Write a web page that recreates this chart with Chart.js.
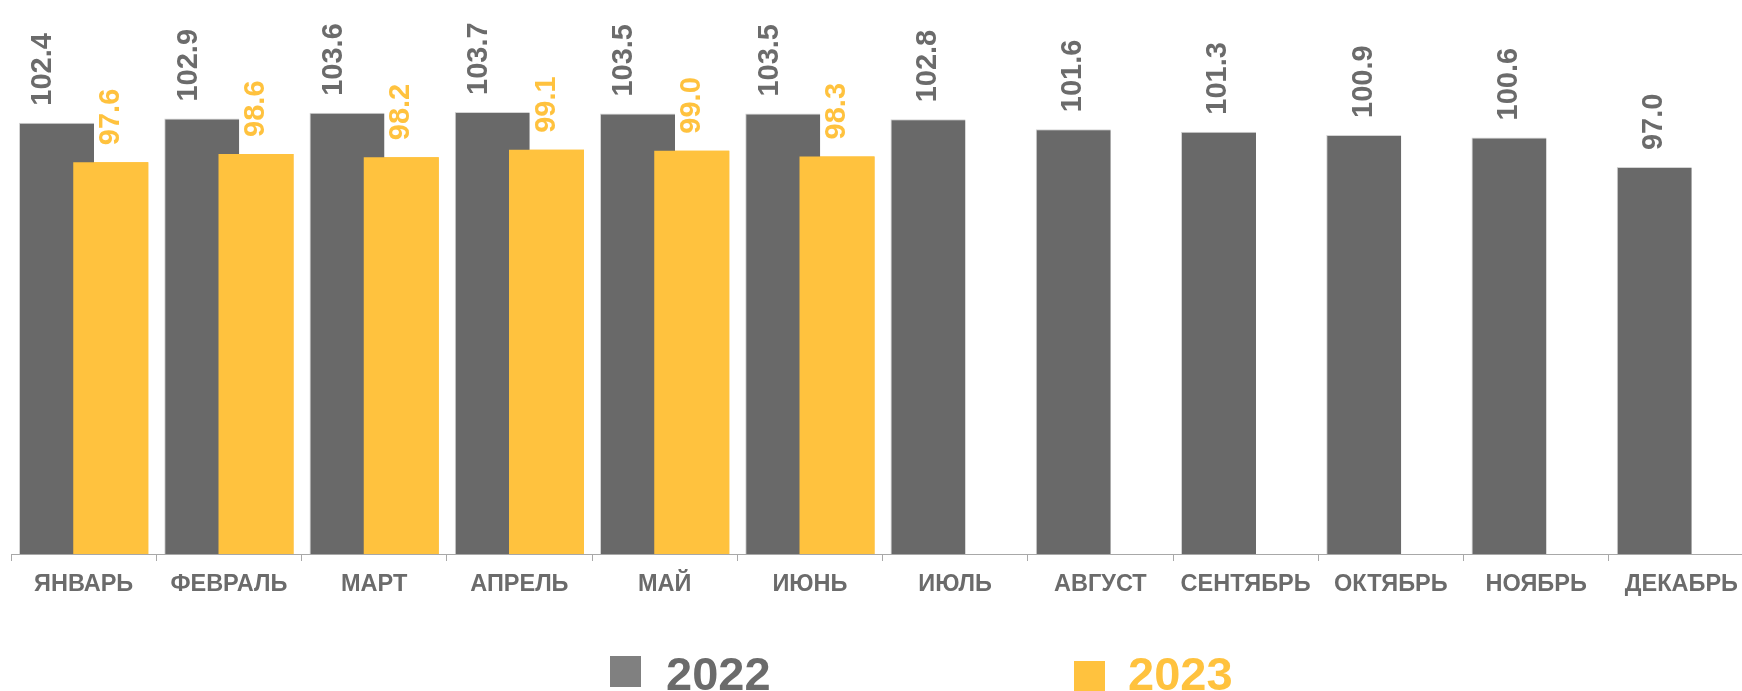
<!DOCTYPE html>
<html>
<head>
<meta charset="utf-8">
<script src="https://cdn.jsdelivr.net/npm/chart.js@4/dist/chart.umd.min.js"></script>
<style>
  html, body { margin: 0; padding: 0; background: #ffffff; overflow: hidden; }
  #wrap { width: 1754px; height: 691px; }
</style>
</head>
<body>
<div id="wrap"><canvas id="c" width="1754" height="691"></canvas></div>
<script>
const months = ['ЯНВАРЬ','ФЕВРАЛЬ','МАРТ','АПРЕЛЬ','МАЙ','ИЮНЬ','ИЮЛЬ','АВГУСТ','СЕНТЯБРЬ','ОКТЯБРЬ','НОЯБРЬ','ДЕКАБРЬ'];
const seriesNames = ['2022', '2023'];
const values2022 = [102.4, 102.9, 103.6, 103.7, 103.5, 103.5, 102.8, 101.6, 101.3, 100.9, 100.6, 97.0];
const values2023 = [97.6, 98.6, 98.2, 99.1, 99.0, 98.3, null, null, null, null, null, null];

const GRAY = '#696969';
const YELLOW = '#FFC23E';
const TEXT_GRAY = '#6b6b6b';

const barPlugin = {
  id: 'barExtras',
  afterDatasetsDraw(chart) {
    const ctx = chart.ctx;
    const a = chart.chartArea;
    // yellow (2023) bars overlap and sit on top of the 2022 bars
    ctx.save();
    ctx.beginPath();
    ctx.rect(a.left, a.top, a.right - a.left, a.bottom - a.top);
    ctx.clip();
    chart.getDatasetMeta(1).controller.draw();
    ctx.restore();
    // value labels, rotated
    ctx.save();
    ctx.font = 'bold 29px "Liberation Sans", Arial, sans-serif';
    ctx.textAlign = 'left';
    ctx.textBaseline = 'middle';
    chart.data.datasets.forEach((ds, di) => {
      const meta = chart.getDatasetMeta(di);
      meta.data.forEach((bar, i) => {
        const v = ds.data[i];
        if (v === null || v === undefined) return;
        let x = bar.x;
        if (di === 0 && values2023[i] !== null) x -= 13;
        const y = bar.y - 17;
        ctx.save();
        ctx.translate(x, y);
        ctx.rotate(-Math.PI / 2);
        ctx.fillStyle = di === 0 ? TEXT_GRAY : YELLOW;
        ctx.fillText(v.toFixed(1), 0, 0);
        ctx.restore();
      });
    });
    ctx.restore();
  },
  afterDraw(chart, args, opts) {
    const ctx = chart.ctx;
    ctx.save();
    opts.items.forEach((it, di) => {
      ctx.fillStyle = it.box;
      ctx.fillRect(it.bx, it.by, it.bw, it.bh);
      ctx.font = 'bold 47px "Liberation Sans", Arial, sans-serif';
      ctx.textAlign = 'left';
      ctx.textBaseline = 'alphabetic';
      ctx.fillStyle = it.text;
      ctx.fillText(chart.data.datasets[di].label, it.tx, opts.baseline);
    });
    ctx.restore();
  }
};

new Chart(document.getElementById('c'), {
  type: 'bar',
  data: {
    labels: months,
    datasets: [
      {
        label: seriesNames[0],
        data: values2022,
        backgroundColor: GRAY,
        borderColor: '#d4d4d4',
        borderWidth: {left: 1, top: 1, right: 0, bottom: 0},
        categoryPercentage: 0.747,
        barPercentage: 1.3825
      },
      {
        label: seriesNames[1],
        data: values2023,
        backgroundColor: YELLOW,
        borderColor: '#ffe2a0',
        borderWidth: 0,
        categoryPercentage: 0.747,
        barPercentage: 1.3825
      }
    ]
  },
  options: {
    responsive: false,
    animation: false,
    devicePixelRatio: 1,
    layout: { padding: { left: 11, right: 0, top: 0, bottom: 0 } },
    plugins: {
      legend: { display: false },
      tooltip: { enabled: false },
      barExtras: {
        baseline: 690,
        items: [
          { box: '#808080', text: TEXT_GRAY, bx: 610, by: 656, bw: 31, bh: 31, tx: 666 },
          { box: YELLOW, text: YELLOW, bx: 1074, by: 661, bw: 31, bh: 31, tx: 1128 }
        ]
      }
    },
    scales: {
      x: {
        type: 'category',
        offset: true,
        grid: {
          offset: true,
          drawOnChartArea: false,
          drawTicks: true,
          tickLength: 7,
          color: '#a8a8a8',
          lineWidth: 1
        },
        border: { display: true, color: '#a8a8a8', width: 1 },
        ticks: {
          autoSkip: false,
          maxRotation: 0,
          minRotation: 0,
          padding: 9,
          color: TEXT_GRAY,
          font: { family: '"Liberation Sans", Arial, sans-serif', size: 23.5, weight: 'bold' }
        },
        afterFit(scale) { scale.height = 137; }
      },
      y: {
        display: false,
        min: 50,
        max: 117.3
      }
    }
  },
  plugins: [barPlugin]
});
</script>
</body>
</html>
